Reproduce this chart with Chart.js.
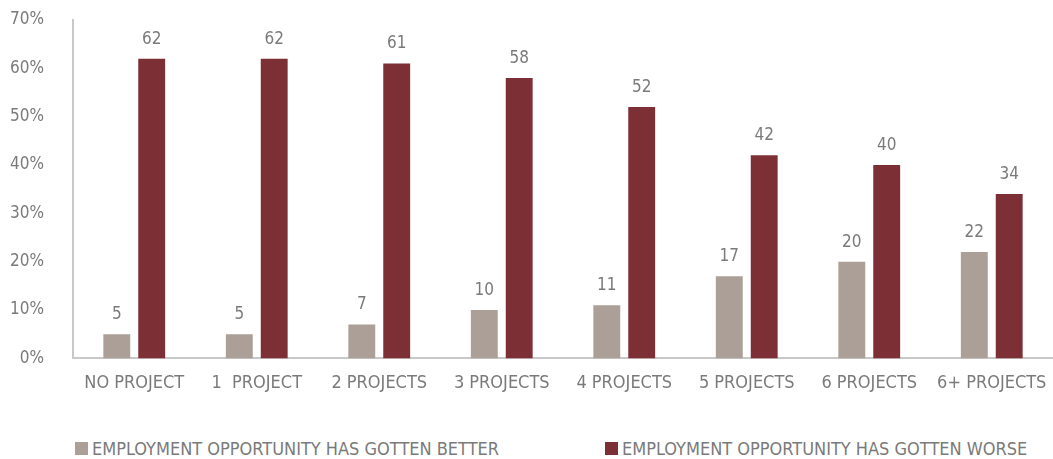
<!DOCTYPE html>
<html>
<head>
<meta charset="utf-8">
<script src="https://cdn.jsdelivr.net/npm/chart.js@4/dist/chart.umd.min.js"></script>
<style>
  html, body { margin: 0; padding: 0; background: #fff; }
  #wrap { width: 1053px; height: 459px; position: relative; }
  #plot { position: absolute; left: 0; top: 0; width: 1053px; height: 408px; }
  #legend { position: absolute; left: 0; top: 438px; width: 1053px; height: 22px;
            font-family: 'DejaVu Sans Condensed', 'Liberation Sans', sans-serif; font-size: 18px; color: #7a7a7a; }
  .item { position: absolute; top: 0; white-space: nowrap; line-height: 22px; }
  .box { display: inline-block; width: 13px; height: 13px; margin-right: 4px; vertical-align: 0px; }
</style>
</head>
<body>
<div id="wrap">
  <div id="plot"><canvas id="barChart"></canvas></div>
  <div id="legend"></div>
</div>
<script>
// categories and the two series (percent of respondents)
var projects = ["NO PROJECT", "1  PROJECT", "2 PROJECTS", "3 PROJECTS", "4 PROJECTS", "5 PROJECTS", "6 PROJECTS", "6+ PROJECTS"];
var gottenBetter = [5, 5, 7, 10, 11, 17, 20, 22];
var gottenWorse = [62, 62, 61, 58, 52, 42, 40, 34];
var seriesNames = ["EMPLOYMENT OPPORTUNITY HAS GOTTEN BETTER", "EMPLOYMENT OPPORTUNITY HAS GOTTEN WORSE"];
var seriesColors = ["#ab9f97", "#7d2f36"];

var fontName = "'DejaVu Sans Condensed', 'Liberation Sans', sans-serif";
var textGrey = "#7a7a7a";

// writes the value above every bar
var valueLabels = {
  id: "valueLabels",
  afterDatasetsDraw: function(chart){
    var ctx = chart.ctx;
    ctx.save();
    ctx.font = "17px " + fontName;
    ctx.fillStyle = textGrey;
    ctx.textAlign = "center";
    ctx.textBaseline = "bottom";
    chart.data.datasets.forEach(function(ds, i){
      var meta = chart.getDatasetMeta(i);
      meta.data.forEach(function(bar, j){
        ctx.fillText(ds.data[j], bar.x, bar.y - 11);
      });
    });
    ctx.restore();
  }
};

// drop the extra room chart.js keeps for half-labels at the axis ends
function noEndPadding(scale){
  scale.paddingLeft = 0;
  scale.paddingRight = 0;
  scale.paddingTop = 0;
  scale.paddingBottom = 0;
}

var ctx = document.getElementById("barChart").getContext("2d");
var chart = new Chart(ctx, {
  type: "bar",
  data: {
    labels: projects,
    datasets: [{
      label: seriesNames[0],
      data: gottenBetter,
      backgroundColor: seriesColors[0],
      categoryPercentage: 0.57,
      barPercentage: 0.77
    }, {
      label: seriesNames[1],
      data: gottenWorse,
      backgroundColor: seriesColors[1],
      categoryPercentage: 0.57,
      barPercentage: 0.77
    }]
  },
  options: {
    responsive: true,
    maintainAspectRatio: false,
    animation: false,
    layout: { padding: { top: 20, right: 0, left: 10, bottom: 0 } },
    plugins: {
      tooltip: { enabled: false },
      legend: { display: false }
    },
    scales: {
      x: {
        afterFit: noEndPadding,
        grid: { display: false, drawTicks: false },
        border: { color: "#c8c8c8", width: 2 },
        ticks: { color: textGrey, padding: 14, maxRotation: 0, autoSkip: false,
                 font: { family: fontName, size: 18 } }
      },
      y: {
        min: 0,
        max: 70,
        afterFit: function(scale){
          noEndPadding(scale);
          scale.width = 63;
        },
        grid: { display: false, drawTicks: false },
        border: { color: "#c8c8c8", width: 2 },
        ticks: {
          stepSize: 10,
          autoSkip: false,
          color: textGrey,
          padding: 29,
          font: { family: fontName, size: 17 },
          callback: function(v){ return v + "%"; }
        }
      }
    }
  },
  plugins: [valueLabels]
});

// legend row under the chart, one entry per series
var legendLeft = [75, 605];
var legend = document.getElementById("legend");
seriesNames.forEach(function(name, i){
  var item = document.createElement("div");
  item.className = "item";
  item.style.left = legendLeft[i] + "px";
  item.innerHTML = '<span class="box" style="background:' + seriesColors[i] + '"></span>' + name;
  legend.appendChild(item);
});
</script>
</body>
</html>
